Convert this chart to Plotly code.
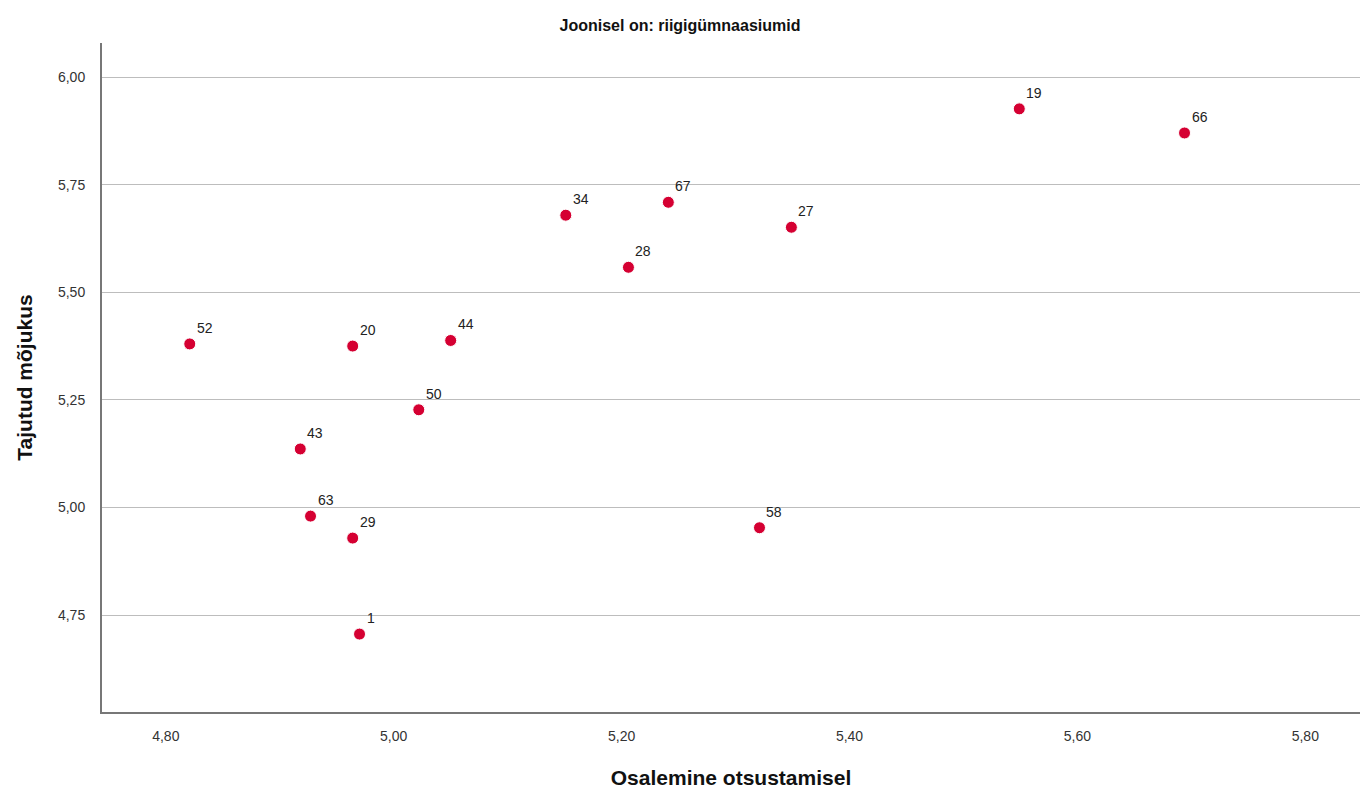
"""Hajuvusdiagramm: osalemine otsustamisel vs tajutud mõjukus (riigigümnaasiumid)."""

import plotly.graph_objects as go

KOOLID = ["52", "20", "44", "50", "43", "63", "29", "1",
          "34", "28", "67", "27", "58", "19", "66"]
OSALEMINE = [4.821, 4.964, 5.050, 5.022, 4.918, 4.927, 4.964, 4.970,
             5.151, 5.206, 5.241, 5.349, 5.321, 5.549, 5.694]
MOJUKUS = [5.380, 5.375, 5.388, 5.227, 5.136, 4.980, 4.929, 4.706,
           5.679, 5.558, 5.709, 5.651, 4.953, 5.926, 5.870]

X_TICKS = [4.80, 5.00, 5.20, 5.40, 5.60, 5.80]
Y_TICKS = [4.75, 5.00, 5.25, 5.50, 5.75, 6.00]

PUNANE = "#D50032"
FONT = "Liberation Sans, Arial, sans-serif"

fig = go.Figure(go.Scatter(
    x=OSALEMINE,
    y=MOJUKUS,
    mode="markers",
    marker=dict(color=PUNANE, size=12, line=dict(color="white", width=1)),
    hovertemplate="%{text}<br>%{x:.2f}; %{y:.2f}<extra></extra>",
    text=KOOLID,
))

for nr, x, y in zip(KOOLID, OSALEMINE, MOJUKUS):
    fig.add_annotation(
        x=x, y=y, text=nr, showarrow=False,
        xanchor="left", yanchor="bottom", xshift=5, yshift=6,
        font=dict(family=FONT, size=14, color="#222222"),
    )

fig.update_layout(
    width=1360,
    height=790,
    paper_bgcolor="white",
    plot_bgcolor="white",
    font=dict(family=FONT, size=14, color="#333333"),
    separators=", ",
    margin=dict(l=102, r=0, t=43, b=78),
    showlegend=False,
    title=dict(
        text="<b>Joonisel on: riigigümnaasiumid</b>",
        x=0.5, xanchor="center", y=1 - 25 / 790, yanchor="middle",
        font=dict(family=FONT, size=16, color="#111111"),
    ),
    xaxis=dict(
        range=[4.744, 5.848],
        tickvals=X_TICKS,
        tickformat=".2f",
        showgrid=False,
        zeroline=False,
        showline=True,
        linecolor="#777777",
        linewidth=2,
        ticks="",
        ticklabelstandoff=10,
        tickfont=dict(size=14, color="#333333"),
        title=dict(
            text="<b>Osalemine otsustamisel</b>",
            font=dict(family=FONT, size=21, color="#111111"),
            standoff=28,
        ),
    ),
    yaxis=dict(
        range=[4.525, 6.079],
        tickvals=Y_TICKS,
        tickformat=".2f",
        showgrid=True,
        gridcolor="#BDBDBD",
        gridwidth=1,
        zeroline=False,
        showline=True,
        linecolor="#777777",
        linewidth=2,
        ticks="",
        ticklabelstandoff=12,
        tickfont=dict(size=14, color="#333333"),
        title=dict(
            text="<b>Tajutud mõjukus</b>",
            font=dict(family=FONT, size=21, color="#111111"),
            standoff=20,
        ),
    ),
)

fig.write_html(
    "out.html",
    config={"displayModeBar": False},
    post_script="document.body.style.margin='0px';",
)
